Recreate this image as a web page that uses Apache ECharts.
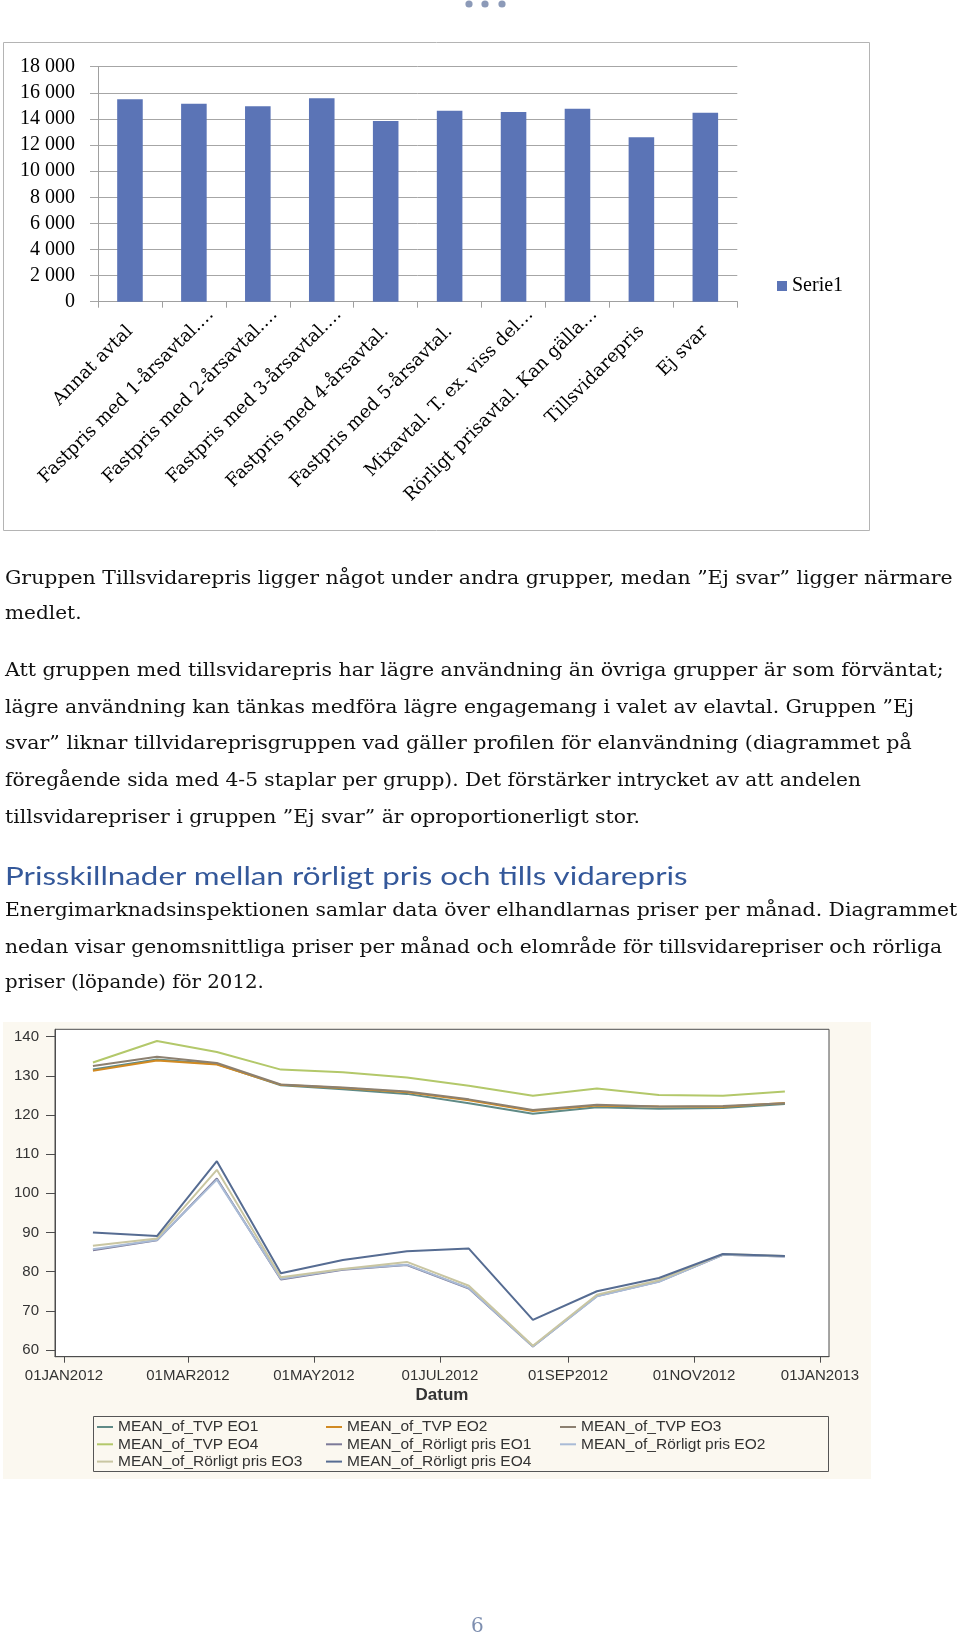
<!DOCTYPE html>
<html><head><meta charset="utf-8">
<script src="https://cdn.jsdelivr.net/npm/echarts@6/dist/echarts.min.js"></script>
<style>
html,body{margin:0;padding:0;background:#fff;}
#chart{position:absolute;left:0;top:0;width:960px;height:1634px;}
.ln{position:absolute;left:5px;white-space:pre;font-family:"DejaVu Serif",serif;font-size:18px;line-height:20px;color:#111;transform-origin:0 50%;}
.hd{font-family:"Lato","Noto Sans",sans-serif;font-size:25px;line-height:28px;color:#34589A;}
</style></head><body>
<div id="chart"></div>
<div id="text"></div>
<script>
// ---------- Bar chart data ----------
const barCategories = [
  'Annat avtal',
  'Fastpris med 1-årsavtal.…',
  'Fastpris med 2-årsavtal.…',
  'Fastpris med 3-årsavtal.…',
  'Fastpris med 4-årsavtal.',
  'Fastpris med 5-årsavtal.',
  'Mixavtal. T. ex. viss del…',
  'Rörligt prisavtal. Kan gälla…',
  'Tillsvidarepris',
  'Ej svar'
];
const barValues = [15500, 15170, 14970, 15580, 13840, 14630, 14530, 14780, 12590, 14480];
const barSeriesName = 'Serie1';

// ---------- Line chart data ----------
const months = ['2012-01-15','2012-02-15','2012-03-15','2012-04-15','2012-05-15','2012-06-15',
                '2012-07-15','2012-08-15','2012-09-15','2012-10-15','2012-11-15','2012-12-15'];
const tvpEO1 = [131.6, 134.2, 133.0, 127.6, 126.6, 125.4, 123.0, 120.3, 122.0, 121.6, 121.8, 122.8];
const tvpEO2 = [131.3, 133.9, 132.9, 127.7, 126.9, 125.8, 123.8, 121.0, 122.4, 122.2, 122.1, 123.1];
const tvpEO3 = [132.5, 134.9, 133.3, 127.8, 127.0, 126.0, 124.0, 121.3, 122.6, 122.2, 122.3, 123.0];
const tvpEO4 = [133.4, 138.9, 136.1, 131.6, 130.9, 129.6, 127.5, 124.9, 126.8, 125.1, 124.9, 126.0];
const rorEO1 = [85.5, 88.0, 103.8, 78.0, 80.5, 81.7, 75.7, 60.9, 73.8, 77.5, 84.3, 83.9];
const rorEO2 = [85.7, 88.1, 103.5, 78.2, 80.6, 81.8, 75.8, 60.9, 73.7, 77.4, 84.3, 83.9];
const rorEO3 = [86.6, 88.5, 106.0, 78.6, 80.7, 82.5, 76.4, 61.1, 74.1, 77.8, 84.5, 84.0];
const rorEO4 = [90.0, 89.1, 108.2, 79.6, 83.0, 85.2, 85.9, 67.7, 75.0, 78.4, 84.5, 84.0];
const lineYTicks = [60, 70, 80, 90, 100, 110, 120, 130, 140];
const lineXTicks = ['2012-01-01','2012-03-01','2012-05-01','2012-07-01','2012-09-01','2012-11-01','2013-01-01'];
const lineAxisName = 'Datum';

const lineSeries = [
  {name:'MEAN_of_TVP EO1', values: tvpEO1, color:'#5F8A86'},
  {name:'MEAN_of_TVP EO2', values: tvpEO2, color:'#D18A22'},
  {name:'MEAN_of_TVP EO3', values: tvpEO3, color:'#8C8070'},
  {name:'MEAN_of_TVP EO4', values: tvpEO4, color:'#B3C86A'},
  {name:'MEAN_of_Rörligt pris EO1', values: rorEO1, color:'#7C7A98'},
  {name:'MEAN_of_Rörligt pris EO2', values: rorEO2, color:'#A9BBD6'},
  {name:'MEAN_of_Rörligt pris EO3', values: rorEO3, color:'#C9C6A2'},
  {name:'MEAN_of_Rörligt pris EO4', values: rorEO4, color:'#566C92'}
];

// ---------- Text ----------
const textLines = [
  {t:'Gruppen Tillsvidarepris ligger något under andra grupper, medan ”Ej svar” ligger närmare', y:578, end:953},
  {t:'medlet.', y:613, end:82},
  {t:'Att gruppen med tillsvidarepris har lägre användning än övriga grupper är som förväntat;', y:670, end:944},
  {t:'lägre användning kan tänkas medföra lägre engagemang i valet av elavtal. Gruppen ”Ej', y:707, end:914},
  {t:'svar” liknar tillvidareprisgruppen vad gäller profilen för elanvändning (diagrammet på', y:743, end:912},
  {t:'föregående sida med 4-5 staplar per grupp). Det förstärker intrycket av att andelen', y:780, end:861},
  {t:'tillsvidarepriser i gruppen ”Ej svar” är oproportionerligt stor.', y:817, end:640},
  {t:'Prisskillnader mellan rörligt pris och tills vidarepris', y:875, end:688, cls:'hd'},
  {t:'Energimarknadsinspektionen samlar data över elhandlarnas priser per månad. Diagrammet', y:910, end:957},
  {t:'nedan visar genomsnittliga priser per månad och elområde för tillsvidarepriser och rörliga', y:947, end:942},
  {t:'priser (löpande) för 2012.', y:982, end:264}
];

const holder = document.getElementById('text');
textLines.forEach(l => {
  const d = document.createElement('div');
  d.className = 'ln' + (l.cls ? ' ' + l.cls : '');
  d.textContent = l.t;
  holder.appendChild(d);
  const h = d.offsetHeight;
  d.style.top = (l.y - h / 2) + 'px';
  const w = d.offsetWidth;
  d.style.transform = 'scaleX(' + ((l.end - 5) / w) + ')';
});

const MON = ['JAN','FEB','MAR','APR','MAY','JUN','JUL','AUG','SEP','OCT','NOV','DEC'];
const ts = s => Date.parse(s + 'T00:00:00Z');
const DAY = 864e5;
const fmtDate = v => { const d = new Date(v); return String(d.getUTCDate()).padStart(2,'0') + MON[d.getUTCMonth()] + d.getUTCFullYear(); };
const fmtThousand = v => String(v).replace(/\B(?=(\d{3})+(?!\d))/g, ' ');

const legendText = {fontFamily:'Liberation Sans', fontSize:15.5, lineHeight:16, color:'#333'};

const chart = echarts.init(document.getElementById('chart'));
const option = {
  animation: false,
  graphic: [
    {type:'rect', z:-10, shape:{x:3.5, y:42.5, width:866, height:488}, style:{fill:'#fff', stroke:'#B4B4B4', lineWidth:1}},
    {type:'rect', z:-10, shape:{x:3, y:1022, width:868, height:457}, style:{fill:'#FBF8F0', stroke:null}},
    {type:'rect', z:-5, shape:{x:93.5, y:1416.5, width:735, height:55}, style:{fill:'none', stroke:'#555', lineWidth:1}},
    {type:'circle', shape:{cx:469, cy:4, r:3.6}, style:{fill:'#8C9AB8'}},
    {type:'circle', shape:{cx:485, cy:4, r:3.6}, style:{fill:'#8C9AB8'}},
    {type:'circle', shape:{cx:502, cy:4, r:3.6}, style:{fill:'#8C9AB8'}},
    {type:'text', left:471, top:1617, style:{text:'6', font:'20px "DejaVu Serif", serif', fill:'#7E8FB0'}}
  ],
  legend: [
    {data:[barSeriesName], left:772, top:271, icon:'rect', itemWidth:10, itemHeight:10, itemGap:5,
     textStyle:{fontFamily:'Liberation Serif', fontSize:20, color:'#000'}},
    {data:[lineSeries[0].name, lineSeries[3].name, lineSeries[6].name], orient:'vertical', left:97, top:1419,
     icon:'rect', itemWidth:16, itemHeight:2, itemGap:1.3, padding:0, textStyle:legendText},
    {data:[lineSeries[1].name, lineSeries[4].name, lineSeries[7].name], orient:'vertical', left:326, top:1419,
     icon:'rect', itemWidth:16, itemHeight:2, itemGap:1.3, padding:0, textStyle:legendText},
    {data:[lineSeries[2].name, lineSeries[5].name], orient:'vertical', left:560, top:1419,
     icon:'rect', itemWidth:16, itemHeight:2, itemGap:1.3, padding:0, textStyle:legendText}
  ],
  grid: [
    {left:98, top:66.7, width:639.3, height:235},
    {left:55, top:1029.3, width:774, height:327.4, show:true, backgroundColor:'#fff', borderColor:'#4d4d4d', borderWidth:1}
  ],
  xAxis: [
    {type:'category', gridIndex:0,
     data: barCategories.map(c => c.endsWith('…') ? {value:c, textStyle:{padding:[0,-24,0,0]}} : c),
     axisLine:{lineStyle:{color:'#A0A0A0'}},
     axisTick:{show:true, length:6, lineStyle:{color:'#A0A0A0'}},
     axisLabel:{interval:0, rotate:45, margin:27, fontFamily:'DejaVu Serif', fontSize:18, color:'#000'}},
    {type:'value', gridIndex:1,
     min: ts('2012-01-01') - 4.36*DAY, max: ts('2013-01-01') + 4.36*DAY,
     name: lineAxisName, nameLocation:'middle', nameGap:30,
     nameTextStyle:{fontFamily:'Liberation Sans', fontSize:17, fontWeight:'bold', color:'#333'},
     axisLine:{show:true, lineStyle:{color:'#4d4d4d'}},
     axisTick:{show:true, length:6, customValues: lineXTicks.map(ts), lineStyle:{color:'#4d4d4d'}},
     axisLabel:{customValues: lineXTicks.map(ts), formatter: fmtDate, margin:12,
                fontFamily:'Liberation Sans', fontSize:15, color:'#333'},
     splitLine:{show:false}}
  ],
  yAxis: [
    {type:'value', gridIndex:0, min:0, max:18000, interval:2000,
     axisLine:{show:true, lineStyle:{color:'#A0A0A0'}},
     axisTick:{show:true, length:8, lineStyle:{color:'#A6A6A6'}},
     splitLine:{show:true, lineStyle:{color:'#A6A6A6', width:1}},
     axisLabel:{formatter: v => fmtThousand(v), margin:23, fontFamily:'Liberation Serif', fontSize:20, color:'#000'}},
    {type:'value', gridIndex:1, min:58.29, max:141.89,
     axisLine:{show:true, lineStyle:{color:'#4d4d4d'}},
     axisTick:{show:true, length:9, customValues: lineYTicks, lineStyle:{color:'#4d4d4d'}},
     axisLabel:{customValues: lineYTicks, margin:16, fontFamily:'Liberation Sans', fontSize:15, color:'#333'},
     splitLine:{show:false}}
  ],
  series: [
    {name: barSeriesName, type:'bar', xAxisIndex:0, yAxisIndex:0, data: barValues, barWidth:'40%',
     itemStyle:{color:'#5B74B6'}}
  ].concat(lineSeries.map(s => ({
    name: s.name, type:'line', xAxisIndex:1, yAxisIndex:1, showSymbol:false, symbol:'none',
    color: s.color, lineStyle:{color:s.color, width:2},
    data: months.map((m, i) => [ts(m), s.values[i]])
  })))
};
chart.setOption(option);
</script>
</body></html>
